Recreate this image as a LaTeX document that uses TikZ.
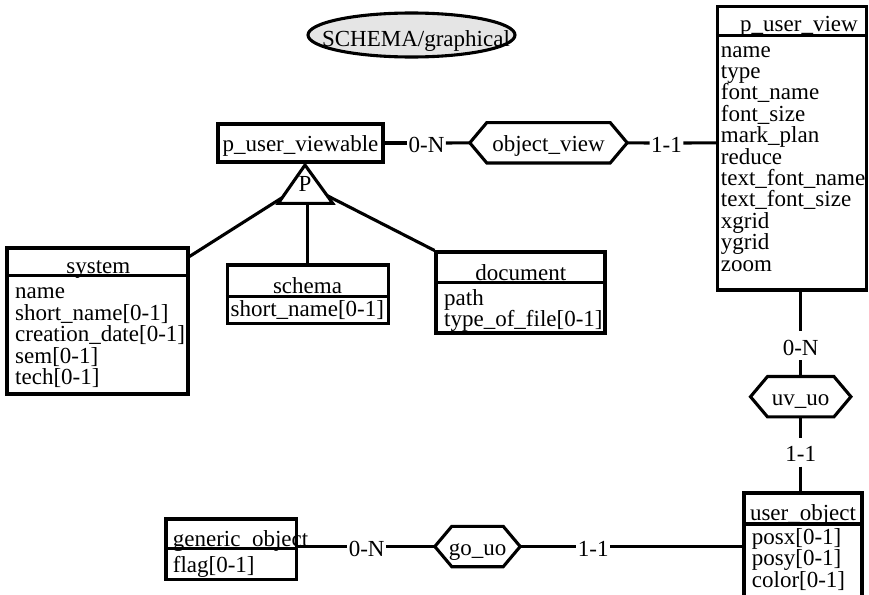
\documentclass[tikz,border=0pt]{standalone}
\usepackage{fontspec}
\setmainfont{Liberation Serif}
\usetikzlibrary{calc,shapes.geometric}

% hexagonal relationship: name, x, y, half width, label
\newcommand{\relhex}[5]{%
  \node[rel, minimum width=2*#4, minimum height=40] (#1) at (#2,#3) {#5};
  \draw[conn] (#1.west) -- ($(#1.north west)+(17,0)$) -- ($(#1.north east)+(-17,0)$)
    -- (#1.east) -- ($(#1.south east)+(-17,0)$) -- ($(#1.south west)+(17,0)$) -- cycle;
}
% horizontal rule under an entity title: node, y
\newcommand{\titlerule}[2]{%
  \draw[conn] (#1.west |- 0,#2) -- (#1.east |- 0,#2);
}

\begin{document}
\begin{tikzpicture}[x=1pt,y=-1pt,
  every node/.style={font=\fontsize{23}{21.4}\selectfont, inner sep=0pt},
  conn/.style={line width=3.1pt, line join=miter},
  ent/.style={draw, line width=3.1pt, rectangle, inner sep=0pt, text height=17pt, text depth=0pt},
  rel/.style={inner sep=0pt, text height=17pt, text depth=0pt},
  card/.style={inner sep=0pt, text height=19pt, text depth=0pt, outer xsep=1.5pt},
  cardv/.style={inner sep=0pt, text height=19pt, text depth=0pt, outer ysep=5pt},
  head/.style={anchor=base},
  attr/.style={anchor=base west},
]
\useasboundingbox (0,0) rectangle (869,594);
\clip (0,0) rectangle (869,594);

% title
\node[ellipse, draw, line width=3.1pt, fill=black!10, minimum width=207, minimum height=44] (title) at (411.5,35) {};
\node[head] (titleT) at (416,46.5) {SCHEMA/graphical};

% p_user_viewable and its partition
\node[ent, minimum width=165, minimum height=38] (pva) at (300.5,143) {p\_user\_viewable};
\coordinate (triA) at (305,165);
\coordinate (triL) at (278.3,203.3);
\coordinate (triR) at (332.7,203.3);
\draw[conn] (triA) -- (triL) -- (triR) -- cycle;
\node[head] (partP) at (305,191.5) {P};

% system
\node[ent, minimum width=181, minimum height=146] (sys) at (97.5,321) {};
\node[head] (sysT) at (98.3,273) {system};
\titlerule{sys}{275.7}
\foreach \t [count=\i from 0] in {name,short\_name[0-1],creation\_date[0-1],sem[0-1],tech[0-1]}
  \node[attr] (sysA\i) at (15,298.5+21.6*\i) {\t};

% schema
\node[ent, minimum width=161, minimum height=58.5] (sch) at (307.8,294.25) {};
\node[head] (schT) at (307.5,293.3) {schema};
\titlerule{sch}{296.5}
\node[attr] (schA0) at (230.5,316.7) {short\_name[0-1]};

% document
\node[ent, minimum width=169, minimum height=81] (doc) at (520.5,292.5) {};
\node[head] (docT) at (520.8,280) {document};
\titlerule{doc}{282.3}
\node[attr] (docA0) at (444,305.5) {path};
\node[attr] (docA1) at (444,326.9) {type\_of\_file[0-1]};

% p_user_view
\node[ent, minimum width=149.2, minimum height=283.3] (puv) at (791.9,148.35) {};
\node[head] (puvT) at (799,31.7) {p\_user\_view};
\titlerule{puv}{35.7}
\foreach \t [count=\i from 0] in {name,type,font\_name,font\_size,mark\_plan,reduce,text\_font\_name,text\_font\_size,xgrid,ygrid,zoom}
  \node[attr] (puvA\i) at (720.7,57+21.4*\i) {\t};

% user_object
\node[ent, minimum width=118, minimum height=117] (uo) at (803,551.5) {};
\node[head] (uoT) at (803,520.7) {user\_object};
\titlerule{uo}{524}
\foreach \t [count=\i from 0] in {posx[0-1],posy[0-1],color[0-1]}
  \node[attr] (uoA\i) at (751.7,544.5+21.4*\i) {\t};

% generic_object
\node[ent, minimum width=130.7, minimum height=60.3] (gen) at (231.35,549.15) {};
\node[attr] (genT) at (172.7,546.5) {generic\_object};
\titlerule{gen}{548.3}
\node[attr] (genA0) at (172.7,572) {flag[0-1]};

% relationships
\relhex{ov}{548.5}{142.8}{78.5}{object\_view}
\relhex{uv}{800.7}{396.7}{50}{uv\_uo}
\relhex{go}{477.5}{546.5}{42.5}{go\_uo}

% cardinalities
\node[card] (c1) at (426.5,143) {0-N};
\node[card] (c2) at (666.5,143) {1-1};
\node[cardv] (c3) at (800.7,345.5) {0-N};
\node[cardv] (c4) at (800.7,452.2) {1-1};
\node[card] (c5) at (366.7,546.5) {0-N};
\node[card] (c6) at (593.3,546.5) {1-1};

% partition links
\draw[conn] ($(triA)!0.85!(triL)$) -- ($(sys.north east)+(0,10)$);
\draw[conn] (sch.north |- triL) -- (sch.north);
\draw[conn] ($(triA)!0.8!(triR)$) -- (doc.north west);

% relationship links
\draw[conn] (pva.east) -- (c1.west);
\draw[conn] (c1.east) -- (ov.west);
\draw[conn] (ov.east) -- (c2.west);
\draw[conn] (c2.east) -- (ov.east -| puv.west);
\draw[conn] (c3.north |- puv.south) -- (c3.north);
\draw[conn] (c3.south) -- (uv.north);
\draw[conn] (uv.south) -- (c4.north);
\draw[conn] (c4.south) -- (c4.south |- uo.north);
\draw[conn] (go.west -| gen.east) -- (c5.west);
\draw[conn] (c5.east) -- (go.west);
\draw[conn] (go.east) -- (c6.west);
\draw[conn] (c6.east) -- (go.east -| uo.west);
\end{tikzpicture}
\end{document}
